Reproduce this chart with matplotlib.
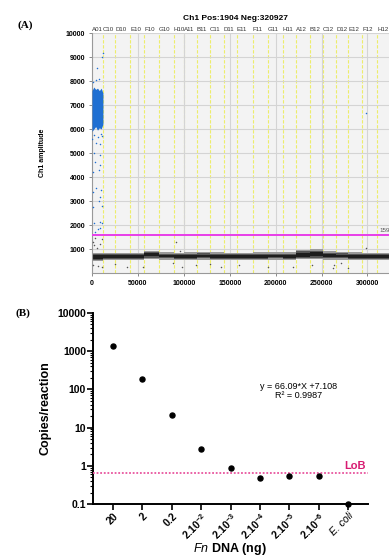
import matplotlib
matplotlib.use("Agg")
import matplotlib.pyplot as plt
import numpy as np

plt.rcParams['font.family'] = ['Liberation Sans', 'DejaVu Sans']
plt.rcParams['mathtext.fontset'] = 'custom'
plt.rcParams['mathtext.rm'] = 'Liberation Sans'
plt.rcParams['mathtext.bf'] = 'Liberation Sans:bold'
plt.rcParams['mathtext.it'] = 'Liberation Sans:italic'

# ---------------- Panel A data (ddPCR droplet plot) ----------------
well_names = ["A01", "C10", "D10", "E10", "F10", "G10", "H10", "A11", "B11", "C11", "D11",
              "E11", "F11", "G11", "H11", "A12", "B12", "C12", "D12", "E12", "F12", "H12"]
well_starts = [0, 11960, 25000, 41300, 56500, 72800, 89100, 100000, 114100, 128300, 143500,
               157600, 175000, 191300, 207600, 221700, 237000, 251100, 266300, 279300, 294600, 310900]
well_end_last = 340000
# negative droplet band per well (outer low/high, dense core low/high)
neg_low = [500, 540, 540, 540, 600, 560, 540, 540, 560, 540, 540,
           540, 550, 560, 550, 580, 590, 560, 560, 550, 550, 540]
neg_high = [830, 850, 840, 850, 930, 860, 850, 860, 880, 860, 850,
            850, 860, 860, 860, 960, 980, 900, 880, 860, 850, 840]
core_low = [600, 630, 630, 630, 690, 650, 630, 630, 650, 630, 630,
            630, 640, 650, 640, 680, 690, 650, 650, 640, 640, 630]
core_high = [730, 740, 730, 740, 820, 760, 750, 760, 770, 760, 750,
             750, 760, 760, 760, 850, 860, 790, 770, 760, 750, 740]

# positive droplet cluster in A01 (profile of the dense cloud)
pos_x = [0, 2000, 4000, 6000, 8000, 10000, 11900]
pos_top = [7600, 7750, 7650, 7700, 7600, 7700, 7500]
pos_bottom = [5900, 6000, 6100, 5950, 6050, 6000, 6200]

# scattered positive droplets
pos_pts_x = [11600, 10500, 5800, 4000, 8000, 700, 4350, 8700, 2500, 8700, 3260, 8700, 7900, 1400,
             4350, 9800, 1100, 8700, 7600, 10500, 700, 2500, 8700, 10500, 6800, 8700, 3260,
             1800, 6000, 9500, 300, 11000, 298000]
pos_pts_y = [9150, 8990, 8530, 8040, 8070, 7970, 5430, 5375, 4990, 4920, 4640, 4500, 4290, 4220,
             3530, 3460, 3360, 3180, 3000, 2790, 2760, 2100, 2140, 2100, 1820, 1860, 1720,
             5750, 5650, 5800, 5600, 5700, 6650]

# scattered negative droplets (outliers)
neg_pts_x = [3260, 700, 2000, 9000, 5000, 11000, 92000, 95700, 298600,
             10500, 1500, 25000, 37700, 55800, 88400, 97500, 141000, 191700, 218900,
             262300, 264100, 271400, 278700, 113800, 129000, 6000, 160000, 240000]
neg_pts_y = [1460, 1300, 1150, 1200, 1050, 1400, 1300, 920, 1050,
             260, 350, 375, 260, 260, 400, 260, 240, 260, 260,
             200, 330, 400, 200, 330, 370, 300, 330, 350]

threshold = 1595

# ---------------- Panel B data ----------------
categories = ["20", "2", "0.2", r"2.10$^{\mathbf{-2}}$", r"2.10$^{\mathbf{-3}}$", r"2.10$^{\mathbf{-4}}$",
              r"2.10$^{\mathbf{-5}}$", r"2.10$^{\mathbf{-6}}$", "E. coli"]
copies = [1350, 183, 22, 2.8, 0.87, 0.48, 0.54, 0.54, 0.1]
lob = 0.66
equation = "y = 66.09*X +7.108"
r2_text = "R² = 0.9987"

W, H = 389, 555
fig = plt.figure(figsize=(W / 100, H / 100), dpi=100)

# ---------------- Panel A ----------------
axA = fig.add_axes([92 / W, 1 - 273 / H, (W - 92) / W, (273 - 33) / H])
axA.set_facecolor('#f3f3f3')
axA.set_xlim(0, 323500)
axA.set_ylim(0, 10000)
axA.set_yticks(np.arange(1000, 10001, 1000))
axA.set_xticks(np.arange(0, 300001, 50000))
axA.grid(True, color='#d4d4d4', lw=0.8, zorder=0)
axA.tick_params(labelsize=5, length=2, width=0.6, color='#777777', pad=3)
for lab in axA.get_xticklabels() + axA.get_yticklabels():
    lab.set_fontweight('bold')
for s in ['top', 'right']:
    axA.spines[s].set_visible(False)
for s in ['left', 'bottom']:
    axA.spines[s].set_color('#999999')
    axA.spines[s].set_linewidth(0.8)

ends = well_starts[1:] + [well_end_last]
for i, (x0, x1) in enumerate(zip(well_starts, ends)):
    axA.fill_between([x0, x1], neg_low[i], neg_high[i], color='#9a9a9a', lw=0, zorder=2)
    mid_lo = (neg_low[i] + core_low[i]) / 2
    mid_hi = (neg_high[i] + core_high[i]) / 2
    axA.fill_between([x0, x1], mid_lo, mid_hi, color='#555555', lw=0, zorder=2)
    axA.fill_between([x0, x1], core_low[i], core_high[i], color='#1e1e1e', lw=0, zorder=2)
    if i > 0:
        axA.axvline(x0, color='#eded6a', lw=0.8, ls=(0, (3, 1.5)), zorder=1)
    axA.text(x0 + 200, 10060, well_names[i], fontsize=4.4, ha='left', va='bottom',
             family=['Liberation Sans Narrow', 'Liberation Sans', 'DejaVu Sans'],
             color='#333333', clip_on=False)

axA.fill_between(pos_x, pos_bottom, pos_top, color='#1f6fd2', lw=0, zorder=3)
axA.scatter(pos_pts_x, pos_pts_y, s=1.2, color='#1f6fd2', lw=0, zorder=3)
axA.scatter(neg_pts_x, neg_pts_y, s=1.2, color='#555555', lw=0, zorder=3)
axA.axhline(threshold, color='#e83ee8', lw=1.4, zorder=4)
axA.text(313500, threshold + 60, str(threshold), fontsize=4.5, color='#555555',
         ha='left', va='bottom', clip_on=False)

axA.set_ylabel("Ch1 amplitude", fontsize=5, fontweight='bold', labelpad=14)
fig.text(235 / W, 1 - 19 / H, "Ch1 Pos:1904 Neg:320927", fontsize=6, fontweight='bold',
         ha='center', va='center')
fig.text(18 / W, 1 - 25 / H, "(A)", fontsize=8, fontweight='bold', family='Liberation Serif',
         ha='left', va='center')

# ---------------- Panel B ----------------
axB = fig.add_axes([93 / W, 1 - 504 / H, (368 - 93) / W, (504 - 313) / H])
xpos = np.arange(len(categories))
axB.set_yscale('log')
axB.set_ylim(0.1, 10000)
axB.set_xlim(-0.68, len(categories) - 1 + 0.68)
axB.plot(xpos, copies, 'o', color='black', ms=3.6, zorder=5, clip_on=False)
axB.axhline(lob, color='#e8559e', lw=1.3, ls=(0, (1, 1)), zorder=3)
axB.text(len(categories) - 1 + 0.62, lob * 1.12, "LoB", color='#d81b72', fontsize=8,
         fontweight='bold', ha='right', va='bottom')
axB.text(6.3, 120, equation, fontsize=6.5, ha='center', va='center')
axB.text(6.3, 70, r2_text, fontsize=6.5, ha='center', va='center')

for s in ['top', 'right']:
    axB.spines[s].set_visible(False)
for s in ['left', 'bottom']:
    axB.spines[s].set_linewidth(1.4)
axB.set_yticks([0.1, 1, 10, 100, 1000, 10000])
axB.set_yticklabels(["0.1", "1", "10", "100", "1000", "10000"])
axB.tick_params(axis='y', which='major', labelsize=7.5, length=4, width=1.2, pad=1)
axB.tick_params(axis='y', which='minor', length=2, width=0.8)
axB.tick_params(axis='x', length=4, width=1.2, labelsize=7.5, pad=1)
for lab in axB.get_yticklabels():
    lab.set_fontweight('bold')
axB.set_xticks(xpos)
axB.set_xticklabels(categories, rotation=45, ha='right', rotation_mode='anchor')
for lab in axB.get_xticklabels():
    if lab.get_text() == "E. coli":
        lab.set_fontstyle('italic')
        lab.set_fontweight('normal')
    else:
        lab.set_fontweight('bold')
axB.set_ylabel("Copies/reaction", fontsize=9, fontweight='bold', labelpad=4)
fig.text(230 / W, 1 - 541 / H, r"$\mathbf{\mathit{Fn}}$ DNA (ng)", fontsize=9,
         fontweight='bold', ha='center', va='top')
fig.text(15 / W, 1 - 313 / H, "(B)", fontsize=8, fontweight='bold', family='Liberation Serif',
         ha='left', va='center')

fig.savefig("out.png", dpi=100)
